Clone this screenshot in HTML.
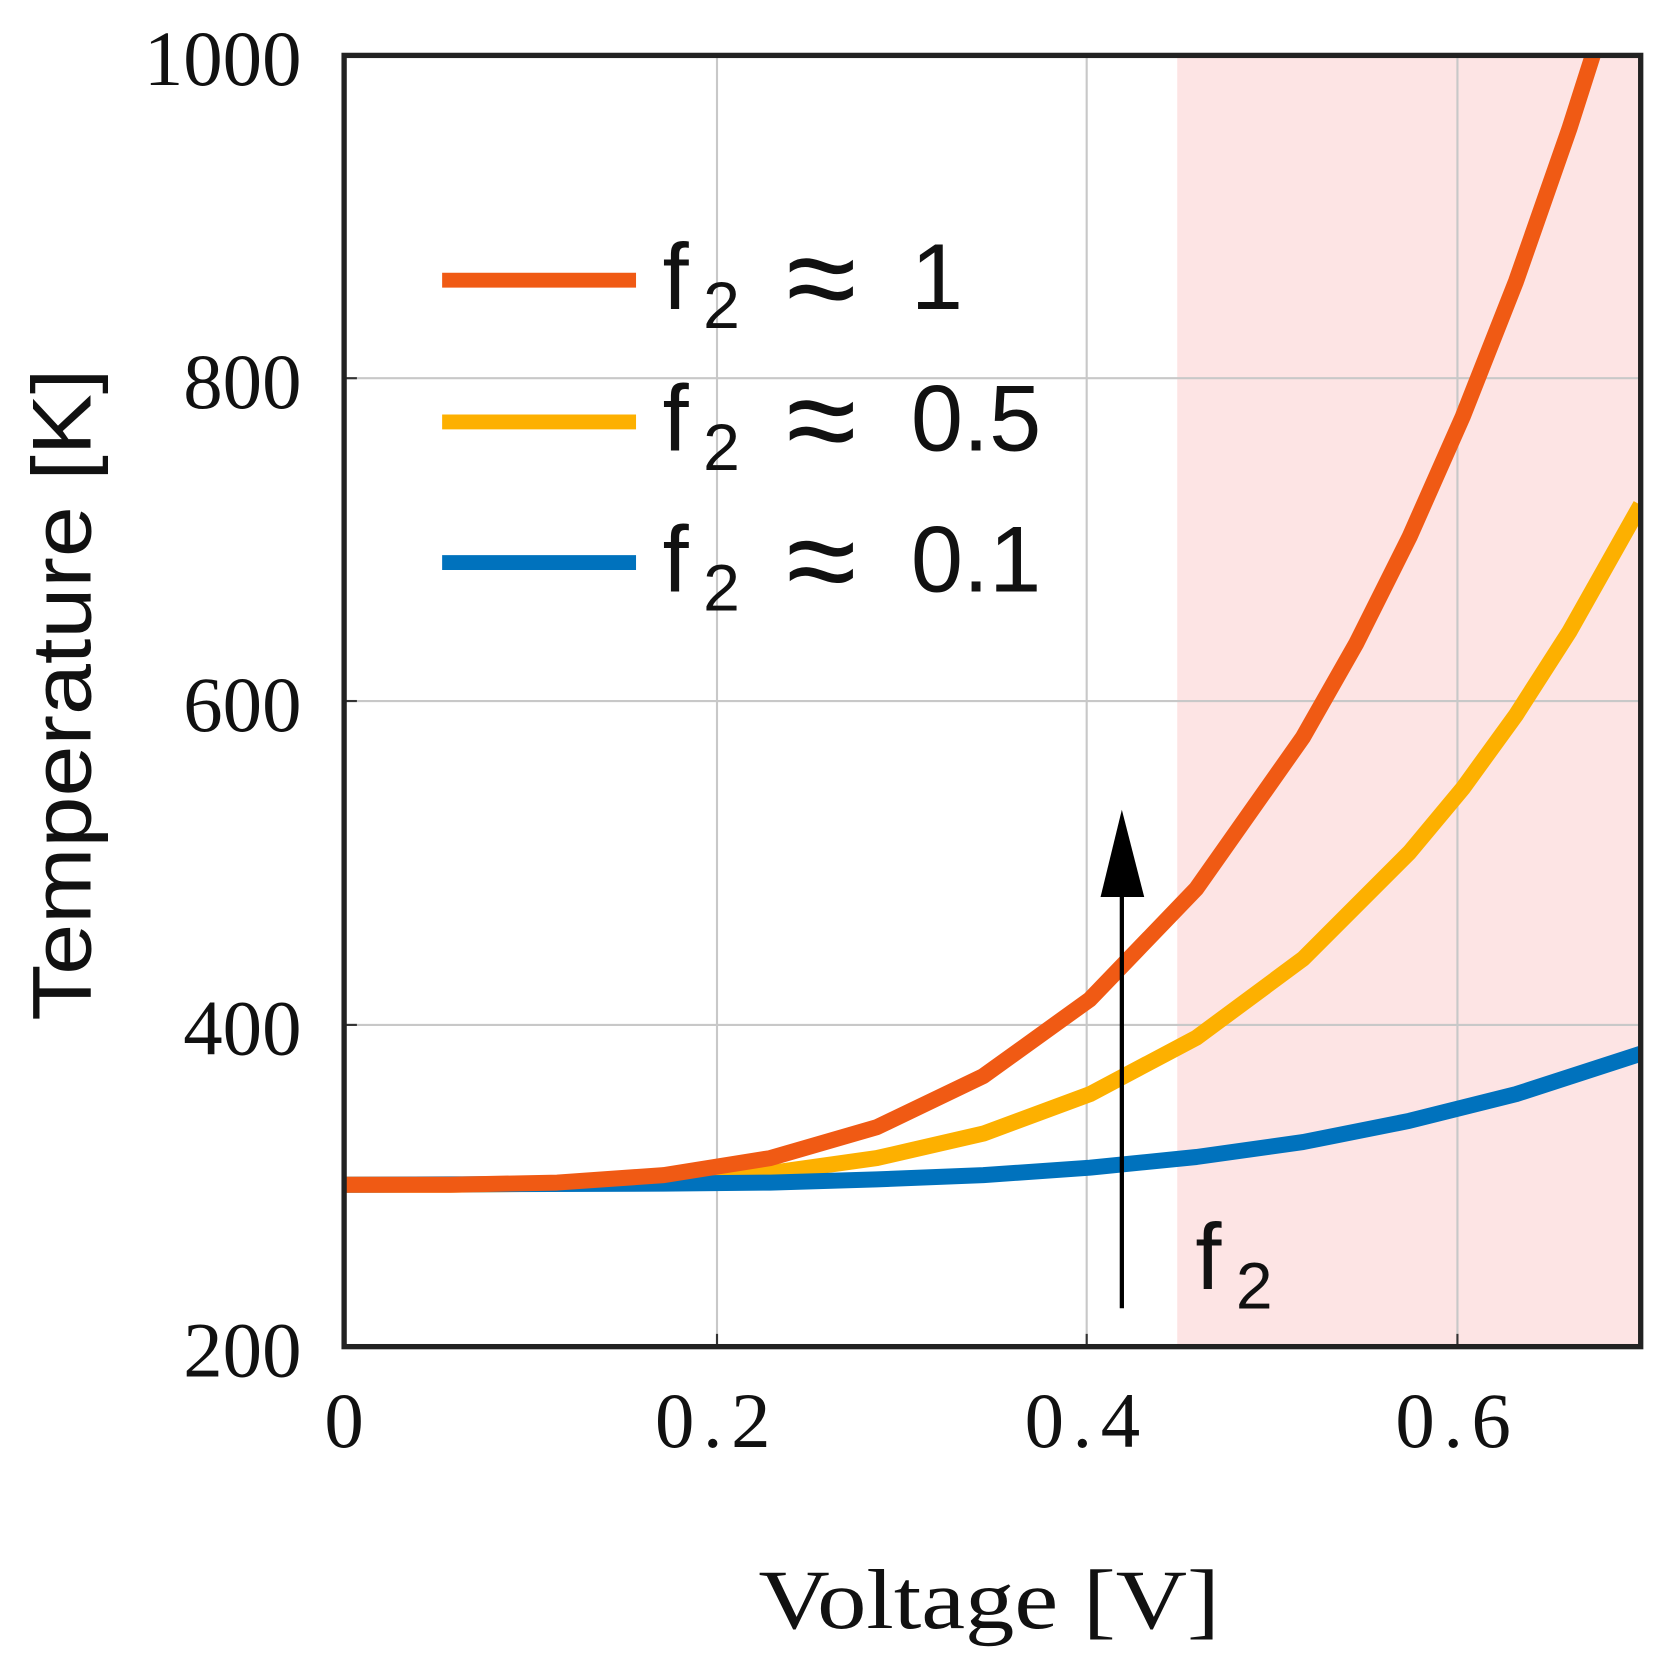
<!DOCTYPE html>
<html><head><style>html,body{margin:0;padding:0;background:#fff}svg{display:block}</style></head>
<body>
<svg width="1662" height="1670" viewBox="0 0 1560 1567.5" xmlns="http://www.w3.org/2000/svg">
<defs><clipPath id="c"><rect x="323" y="52" width="1217" height="1212"/></clipPath></defs>
<rect x="1105" y="52" width="435" height="1212" fill="#fde4e4"/>
<g stroke="#c8c8c8" stroke-width="2">
<line x1="673" y1="52" x2="673" y2="1264"/><line x1="1020" y1="52" x2="1020" y2="1264"/><line x1="1368" y1="52" x2="1368" y2="1264"/>
<line x1="323" y1="355" x2="1540" y2="355"/><line x1="323" y1="658" x2="1540" y2="658"/><line x1="323" y1="962" x2="1540" y2="962"/>
</g>
<g stroke="#333" stroke-width="2">
<line x1="673" y1="1264" x2="673" y2="1252"/><line x1="1020" y1="1264" x2="1020" y2="1252"/><line x1="1368" y1="1264" x2="1368" y2="1252"/>
<line x1="323" y1="355" x2="335" y2="355"/><line x1="323" y1="658" x2="335" y2="658"/><line x1="323" y1="962" x2="335" y2="962"/>
</g>
<g fill="none" stroke-width="15" stroke-linejoin="round" clip-path="url(#c)">
<polyline stroke="#fdb000" points="323,1112 423,1112 523,1111 623,1108 723,1101 823,1087 923,1064 1023,1027 1123,974 1223,900 1323,800 1373,740 1423,671 1473,593 1540,474"/>
<polyline stroke="#0072bd" points="323,1112 623,1111 723,1110 823,1107 923,1103 1023,1096 1123,1086 1223,1072 1323,1052 1423,1027 1540,989"/>
<polyline stroke="#f05a14" points="323,1112 423,1112 523,1110 623,1103 723,1087 823,1058 923,1010 1023,938 1123,834 1223,692 1273,604 1323,504 1373,391 1423,264 1473,121 1503,27"/>
</g>
<line x1="1053" y1="1228" x2="1053" y2="835" stroke="#000" stroke-width="4"/>
<polygon points="1053,760 1033,842 1074,842" fill="#000"/>
<rect x="323" y="52" width="1217" height="1212" fill="none" stroke="#222" stroke-width="5"/>
<g stroke-width="14">
<line x1="415" y1="263" x2="597" y2="263" stroke="#f05a14"/>
<line x1="415" y1="396" x2="597" y2="396" stroke="#fdb000"/>
<line x1="415" y1="528" x2="597" y2="528" stroke="#0072bd"/>
</g>
<g font-family="Liberation Sans, DejaVu Sans, sans-serif" font-size="88" fill="#111">
<text x="622" y="290">f</text><text x="660" y="308" font-size="62">2</text><text x="738" y="302" font-size="120">≈</text><text x="855" y="290">1</text>
<text x="622" y="423">f</text><text x="660" y="441" font-size="62">2</text><text x="738" y="435" font-size="120">≈</text><text x="855" y="423">0.5</text>
<text x="622" y="555">f</text><text x="660" y="573" font-size="62">2</text><text x="738" y="567" font-size="120">≈</text><text x="855" y="555">0.1</text>
<text x="1122" y="1210">f</text><text x="1160" y="1228" font-size="62">2</text>
<text transform="translate(85,652) rotate(-90)" text-anchor="middle" font-size="78" textLength="612" lengthAdjust="spacingAndGlyphs">Temperature [K]</text>
</g>
<g font-family="Liberation Serif, DejaVu Serif, serif" font-size="74" fill="#111">
<text x="283" y="80" text-anchor="end">1000</text>
<text x="283" y="383" text-anchor="end">800</text>
<text x="283" y="686" text-anchor="end">600</text>
<text x="283" y="990" text-anchor="end">400</text>
<text x="283" y="1292" text-anchor="end">200</text>
<text x="323" y="1358" text-anchor="middle">0</text>
<text x="673" y="1358" text-anchor="middle" letter-spacing="8">0.2</text>
<text x="1020" y="1358" text-anchor="middle" letter-spacing="8">0.4</text>
<text x="1368" y="1358" text-anchor="middle" letter-spacing="8">0.6</text>
<text x="712" y="1528" font-size="80" textLength="433" lengthAdjust="spacingAndGlyphs">Voltage [V]</text>
</g>
</svg>
</body></html>
